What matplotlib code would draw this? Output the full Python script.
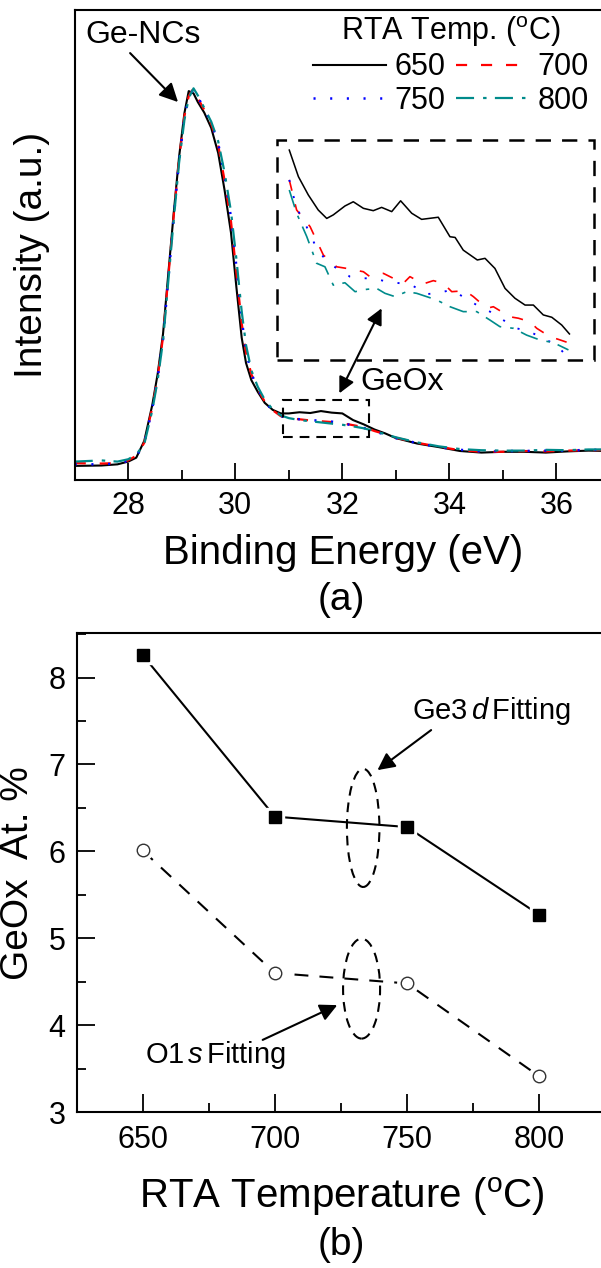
import matplotlib
matplotlib.use('Agg')
import matplotlib.pyplot as plt
from matplotlib.patches import Ellipse, Rectangle
from matplotlib.ticker import MultipleLocator
import numpy as np

plt.rcParams['font.family'] = ['Liberation Sans', 'DejaVu Sans']
plt.rcParams['mathtext.fontset'] = 'custom'
plt.rcParams['mathtext.rm'] = 'Liberation Sans'
plt.rcParams['mathtext.it'] = 'Liberation Sans:italic'
plt.rcParams['lines.scale_dashes'] = False

# ---------------- data: panel (a) XPS Ge3d spectra ----------------
energy = [27.0, 27.5, 27.8, 28.0, 28.15, 28.3, 28.45, 28.55, 28.65, 28.75, 28.85,
          28.95, 29.05, 29.13, 29.22, 29.3, 29.42, 29.55, 29.68, 29.8, 29.92, 30.02,
          30.12, 30.2, 30.3, 30.42, 30.55, 30.7, 30.85, 31.0, 31.2, 31.4, 31.6, 31.8,
          32.0, 32.2, 32.4, 32.6, 32.8, 33.0, 33.4, 33.8, 34.2, 34.6, 35.0, 35.4,
          35.8, 36.2, 36.6, 37.0]
int_650 = [0.036, 0.037, 0.040, 0.047, 0.057, 0.100, 0.192, 0.271, 0.373, 0.529, 0.682,
           0.825, 0.937, 0.993, 0.987, 0.965, 0.938, 0.899, 0.835, 0.740, 0.631, 0.493,
           0.363, 0.299, 0.255, 0.225, 0.197, 0.179, 0.170, 0.170, 0.173, 0.171, 0.176, 0.172,
           0.170, 0.153, 0.142, 0.129, 0.119, 0.107, 0.093, 0.084, 0.074, 0.070, 0.072, 0.072,
           0.070, 0.073, 0.075, 0.074]
int_700 = [0.043, 0.042, 0.043, 0.050, 0.062, 0.095, 0.185, 0.262, 0.365, 0.520, 0.675,
           0.820, 0.930, 0.980, 1.000, 0.975, 0.945, 0.910, 0.855, 0.765, 0.660, 0.530,
           0.400, 0.325, 0.270, 0.232, 0.200, 0.178, 0.163, 0.158, 0.155, 0.152, 0.150, 0.148,
           0.145, 0.140, 0.135, 0.125, 0.117, 0.108, 0.095, 0.085, 0.076, 0.072, 0.072, 0.074,
           0.073, 0.075, 0.076, 0.077]
int_750 = [0.040, 0.040, 0.042, 0.049, 0.060, 0.094, 0.183, 0.260, 0.360, 0.515, 0.670,
           0.815, 0.925, 0.978, 0.998, 0.978, 0.948, 0.912, 0.860, 0.775, 0.670, 0.545,
           0.410, 0.330, 0.272, 0.233, 0.200, 0.177, 0.163, 0.158, 0.155, 0.153, 0.151, 0.149,
           0.145, 0.139, 0.133, 0.124, 0.116, 0.107, 0.094, 0.084, 0.077, 0.073, 0.074, 0.074,
           0.075, 0.075, 0.077, 0.077]
int_800 = [0.047, 0.050, 0.047, 0.053, 0.065, 0.092, 0.178, 0.255, 0.355, 0.510, 0.665,
           0.810, 0.920, 0.975, 1.000, 0.982, 0.950, 0.915, 0.865, 0.785, 0.685, 0.565,
           0.430, 0.345, 0.280, 0.238, 0.205, 0.180, 0.165, 0.158, 0.153, 0.150, 0.147, 0.144,
           0.141, 0.137, 0.132, 0.125, 0.117, 0.109, 0.096, 0.086, 0.079, 0.076, 0.075, 0.075,
           0.077, 0.076, 0.078, 0.078]

# inset (GeOx region, magnified)
in_e_650 = [30.962, 31.008, 31.058, 31.108, 31.151, 31.184, 31.243, 31.285, 31.336, 31.386,
            31.428, 31.479, 31.524, 31.580, 31.630, 31.714, 31.773, 31.799, 31.840, 31.911,
            31.950, 32.000, 32.051, 32.101, 32.152, 32.194, 32.244, 32.287, 32.337, 32.376]
in_i_650 = [0.2000, 0.1887, 0.1809, 0.1745, 0.1709, 0.1724, 0.1762, 0.1780, 0.1752, 0.1742,
            0.1756, 0.1738, 0.1784, 0.1731, 0.1705, 0.1714, 0.1631, 0.1628, 0.1574, 0.1532,
            0.1539, 0.1496, 0.1411, 0.1369, 0.1340, 0.1340, 0.1298, 0.1288, 0.1255, 0.1217]
in_e_700 = [30.962, 30.999, 31.067, 31.134, 31.201, 31.252, 31.336, 31.369, 31.437, 31.470,
            31.538, 31.571, 31.638, 31.689, 31.739, 31.782, 31.849, 31.891, 31.959, 31.992,
            32.076, 32.118, 32.177, 32.211, 32.278, 32.320, 32.379]
in_i_700 = [0.1873, 0.1745, 0.1674, 0.1553, 0.1503, 0.1496, 0.1482, 0.1461, 0.1475, 0.1461,
            0.1433, 0.1461, 0.1430, 0.1444, 0.1433, 0.1397, 0.1401, 0.1376, 0.1326, 0.1333,
            0.1290, 0.1284, 0.1269, 0.1241, 0.1205, 0.1194, 0.1177]
in_e_750 = [30.962, 30.999, 31.033, 31.100, 31.159, 31.218, 31.268, 31.319, 31.386, 31.453,
            31.520, 31.588, 31.655, 31.714, 31.773, 31.840, 31.908, 31.975, 32.042, 32.110,
            32.177, 32.244, 32.312, 32.371]
in_i_750 = [0.1873, 0.1752, 0.1703, 0.1582, 0.1518, 0.1489, 0.1461, 0.1454, 0.1454, 0.1440,
            0.1433, 0.1421, 0.1387, 0.1390, 0.1404, 0.1376, 0.1340, 0.1312, 0.1276, 0.1241,
            0.1226, 0.1198, 0.1170, 0.1113]
in_e_800 = [30.962, 30.999, 31.050, 31.100, 31.142, 31.184, 31.243, 31.294, 31.353, 31.403,
            31.445, 31.495, 31.554, 31.605, 31.655, 31.705, 31.773, 31.840, 31.908, 31.975,
            32.025, 32.093, 32.160, 32.228, 32.295, 32.371]
in_i_800 = [0.1830, 0.1731, 0.1632, 0.1518, 0.1503, 0.1425, 0.1435, 0.1397, 0.1407, 0.1411,
            0.1390, 0.1376, 0.1397, 0.1390, 0.1376, 0.1362, 0.1333, 0.1312, 0.1312, 0.1276,
            0.1248, 0.1241, 0.1212, 0.1191, 0.1180, 0.1149]

temps_labels = ['650', '700', '750', '800']

# ---------------- data: panel (b) GeOx at.% ----------------
rta_temp = [650, 700, 750, 800]
ge3d_fit = [8.26, 6.40, 6.28, 5.27]
o1s_fit = [6.01, 4.60, 4.48, 3.41]

# ---------------- figure ----------------
W, H = 601, 1268
fig = plt.figure(figsize=(W / 100, H / 100), dpi=100)


def fx(px):
    return px / W


def fy(py):
    return 1 - py / H


styles = [dict(color='black', lw=1.5, ls='-'),
          dict(color='#ff0000', lw=1.6, dashes=(8, 10)),
          dict(color='#0000ff', lw=1.8, dashes=(1.5, 10.5)),
          dict(color='#008b8b', lw=1.6, dashes=(13, 6.5, 2.5, 6))]

# ---- panel (a) ----
ax1 = fig.add_axes([fx(74.7), fy(480), fx(610) - fx(74.7), (480 - 10) / H])
series = [int_650, int_700, int_750, int_800]
handles = []
for s, st in zip(series, styles):
    ln, = ax1.plot(energy, s, **st)
    handles.append(ln)
ax1.set_xlim(27, 37)
ax1.set_ylim(0, 1.20)
ax1.xaxis.set_major_locator(MultipleLocator(2))
ax1.xaxis.set_minor_locator(MultipleLocator(1))
ax1.tick_params(axis='x', which='major', direction='in', length=12, width=1.3,
                labelsize=22, pad=8)
ax1.tick_params(axis='x', which='minor', direction='in', length=7, width=1.3)
ax1.tick_params(axis='y', which='both', left=False, labelleft=False)
for sp in ax1.spines.values():
    sp.set_linewidth(1.5)
ax1.spines['right'].set_visible(False)

leg = ax1.legend([handles[0], handles[2], handles[1], handles[3]],
                 [temps_labels[0], temps_labels[2], temps_labels[1], temps_labels[3]],
                 ncol=2, title='RTA Temp. ($^{\\rm o}$C)', fontsize=22, title_fontsize=22,
                 frameon=False, loc='upper left',
                 bbox_to_anchor=(fx(313), fy(14)), bbox_transform=fig.transFigure,
                 borderpad=0, borderaxespad=0, handlelength=2.4, handletextpad=0.27,
                 columnspacing=0.33, labelspacing=0.12)

# small dashed box on the GeOx region
ax1.add_patch(Rectangle((30.9, 0.1105), 1.6, 0.0937, fill=False, lw=1.5,
                        ls=(0, (7, 5)), ec='black', zorder=5))

ax1.annotate('', xy=(28.93, 0.965), xytext=(28.035, 1.090),
             arrowprops=dict(arrowstyle='-|>', lw=1.5, color='black', mutation_scale=28,
                             shrinkA=0, shrinkB=0))
ax1.text(28.27, 1.136, 'Ge-NCs', fontsize=23, ha='center', va='center')
ax1.annotate('', xy=(31.944, 0.2213), xytext=(32.733, 0.4383),
             arrowprops=dict(arrowstyle='<|-|>', lw=1.5, color='black', mutation_scale=24,
                             shrinkA=0, shrinkB=0))
ax1.text(32.333, 0.251, 'GeOx', fontsize=23, ha='left', va='center')

# inset
axi = fig.add_axes([fx(277), fy(360), fx(594) - fx(277), (360 - 140) / H])
axi.set_xlim(30.9, 32.5)
axi.set_ylim(0.1106, 0.2043)
inset_e = [in_e_650, in_e_700, in_e_750, in_e_800]
inset_i = [in_i_650, in_i_700, in_i_750, in_i_800]
for e, i, st in zip(inset_e, inset_i, styles):
    st2 = dict(st)
    st2['lw'] = st['lw'] * 0.75
    axi.plot(e, i, clip_on=False, **st2)
axi.set_xticks([])
axi.set_yticks([])
for sp in axi.spines.values():
    sp.set_visible(False)
axi.patch.set_alpha(0)
axi.add_patch(Rectangle((0, 0), 1, 1, transform=axi.transAxes, fill=False, lw=1.8,
                        ls=(0, (11, 8)), ec='black', clip_on=False))

fig.text(fx(32), fy(255), 'Intensity (a.u.)', fontsize=28, rotation=90,
         ha='center', va='center')
fig.text(fx(343), fy(553), 'Binding Energy (eV)', fontsize=29, ha='center', va='center')
fig.text(fx(341), fy(600), '(a)', fontsize=28, ha='center', va='center')

# ---- panel (b) ----
ax2 = fig.add_axes([fx(76.5), fy(1112), fx(605.4) - fx(76.5), (1112 - 633.3) / H])
ax2.plot(rta_temp, ge3d_fit, color='black', lw=1.5, zorder=2)
ax2.plot(rta_temp, ge3d_fit, 's', ms=12.5, color='white', zorder=3)
ax2.plot(rta_temp, ge3d_fit, 's', ms=8, color='black', zorder=4)
ax2.plot(rta_temp, o1s_fit, color='black', lw=1.5, dashes=(10, 8), zorder=2)
ax2.plot(rta_temp, o1s_fit, 'o', ms=14, color='white', zorder=3)
ax2.plot(rta_temp, o1s_fit, 'o', ms=9, mfc='white', mec='#333333', mew=1.0, zorder=4)
ax2.set_xlim(625, 825)
ax2.set_ylim(3, 8.51)
ax2.xaxis.set_major_locator(MultipleLocator(50))
ax2.xaxis.set_minor_locator(MultipleLocator(25))
ax2.yaxis.set_major_locator(MultipleLocator(1))
ax2.yaxis.set_minor_locator(MultipleLocator(0.5))
ax2.tick_params(axis='both', which='major', direction='in', length=13, width=1.3,
                labelsize=22)
ax2.tick_params(axis='x', which='major', pad=9)
ax2.tick_params(axis='y', which='major', pad=8)
ax2.tick_params(axis='both', which='minor', direction='in', length=6.5, width=1.3)
for sp in ax2.spines.values():
    sp.set_linewidth(1.5)
ax2.spines['right'].set_visible(False)

ax2.add_patch(Ellipse((733.4, 6.27), 12.3, 1.36, fill=False, lw=1.5, ls=(0, (7, 5)),
                      ec='black', zorder=5))
ax2.add_patch(Ellipse((732.8, 4.42), 14.0, 1.15, fill=False, lw=1.5, ls=(0, (7, 5)),
                      ec='black', zorder=5))
ax2.annotate('', xy=(738.8, 6.935), xytext=(759.1, 7.396),
             arrowprops=dict(arrowstyle='-|>', lw=1.5, color='black', mutation_scale=26,
                             shrinkA=0, shrinkB=0))
ax2.annotate('', xy=(723.6, 4.23), xytext=(695.4, 3.83),
             arrowprops=dict(arrowstyle='-|>', lw=1.5, color='black', mutation_scale=26,
                             shrinkA=0, shrinkB=0))
ax2.text(782, 7.61, r'Ge3$\,\mathit{d}\,$Fitting', fontsize=21, ha='center', va='center')
ax2.text(677.6, 3.656, r'O1$\,\mathit{s}\,$Fitting', fontsize=21, ha='center', va='center')

fig.text(fx(18), fy(873), 'GeOx  At. %', fontsize=28, rotation=90, ha='center', va='center')
fig.text(fx(342), fy(1197), 'RTA Temperature ($^{\\rm o}$C)', fontsize=29,
         ha='center', va='center')
fig.text(fx(341), fy(1245), '(b)', fontsize=28, ha='center', va='center')

fig.savefig('out.png', dpi=100)
